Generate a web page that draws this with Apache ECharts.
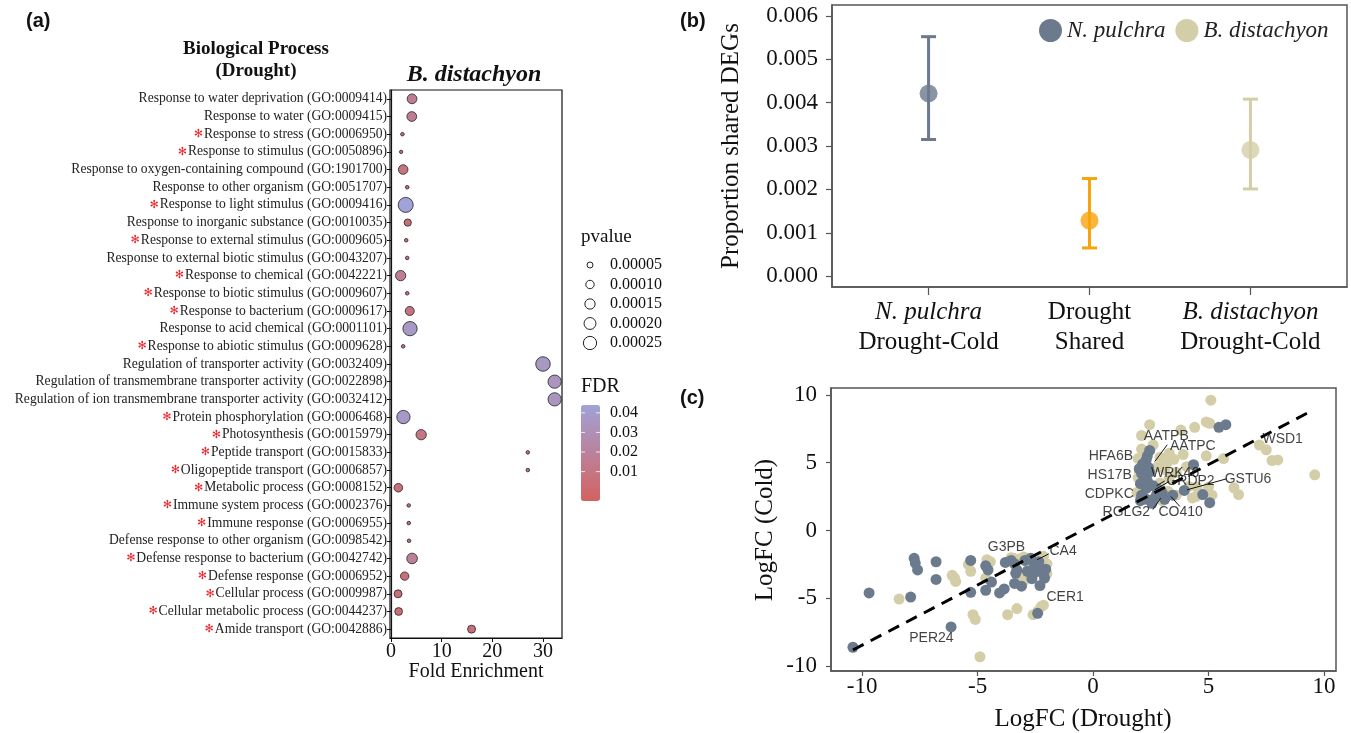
<!DOCTYPE html>
<html><head><meta charset="utf-8">
<script src="https://cdn.jsdelivr.net/npm/echarts@6/dist/echarts.min.js"></script>
<style>html,body{margin:0;padding:0;background:#fff}#c{width:1351px;height:733px}</style>
</head><body><div id="c"></div>
<script>
// ---------- Panel (a) data ----------
const goTerms = [
 'Response to water deprivation (GO:0009414)','Response to water (GO:0009415)','Response to stress (GO:0006950)',
 'Response to stimulus (GO:0050896)','Response to oxygen-containing compound (GO:1901700)','Response to other organism (GO:0051707)',
 'Response to light stimulus (GO:0009416)','Response to inorganic substance (GO:0010035)','Response to external stimulus (GO:0009605)',
 'Response to external biotic stimulus (GO:0043207)','Response to chemical (GO:0042221)','Response to biotic stimulus (GO:0009607)',
 'Response to bacterium (GO:0009617)','Response to acid chemical (GO:0001101)','Response to abiotic stimulus (GO:0009628)',
 'Regulation of transporter activity (GO:0032409)','Regulation of transmembrane transporter activity (GO:0022898)',
 'Regulation of ion transmembrane transporter activity (GO:0032412)','Protein phosphorylation (GO:0006468)','Photosynthesis (GO:0015979)',
 'Peptide transport (GO:0015833)','Oligopeptide transport (GO:0006857)','Metabolic process (GO:0008152)','Immune system process (GO:0002376)',
 'Immune response (GO:0006955)','Defense response to other organism (GO:0098542)','Defense response to bacterium (GO:0042742)',
 'Defense response (GO:0006952)','Cellular process (GO:0009987)','Cellular metabolic process (GO:0044237)','Amide transport (GO:0042886)'
];
const goMarked = [0,0,1,1,0,0,1,0,1,0,1,1,1,0,1,0,0,0,1,1,1,1,1,1,1,0,1,1,1,1,1];
const foldEnrichment = [4.15,4.1,2.25,2.0,2.4,3.2,2.9,3.3,3.0,3.2,1.9,3.2,3.7,3.75,2.4,30.0,32.3,32.3,2.45,5.95,27.0,27.0,1.45,3.5,3.5,3.56,4.16,2.7,1.39,1.5,15.9];
const pValues = [1.35e-4,1.35e-4,1.8e-5,1.6e-5,1.3e-4,1.8e-5,3.2e-4,7.5e-5,1.8e-5,1.8e-5,1.5e-4,1.8e-5,1.15e-4,2.9e-4,1.8e-5,3.0e-4,2.5e-4,2.5e-4,2.5e-4,1.5e-4,1.8e-5,1.8e-5,1.05e-4,1.8e-5,1.8e-5,1.8e-5,1.6e-4,1.0e-4,9e-5,8.5e-5,9e-5];
const fdrValues = [0.016,0.016,0.003,0.003,0.009,0.003,0.044,0.004,0.003,0.003,0.016,0.003,0.008,0.036,0.003,0.036,0.034,0.034,0.037,0.010,0.003,0.003,0.005,0.003,0.003,0.003,0.018,0.005,0.005,0.005,0.005];
const pLegendValues = [0.00005,0.00010,0.00015,0.00020,0.00025];
const fdrTicks = [0.01,0.02,0.03,0.04];
const feTicks = [0,10,20,30];

// ---------- Panel (b) data ----------
const propGroups = ['N. pulchra|Drought-Cold','Drought|Shared','B. distachyon|Drought-Cold'];
const propMean  = [0.00421,0.00128,0.00291];
const propLower = [0.00315,0.00065,0.00201];
const propUpper = [0.00552,0.00225,0.00408];
const propTicks = [0,0.001,0.002,0.003,0.004,0.005,0.006];

// ---------- Panel (c) data ----------
const npulchraPts = [
 [-10.4,-8.6],[-9.7,-4.6],[-7.9,-4.9],[-7.75,-2.05],[-7.7,-2.4],[-7.6,-2.9],[-6.8,-2.3],[-6.8,-3.6],[-6.15,-7.1],
 [-5.3,-2.2],[-5.3,-4.55],[-4.65,-2.6],[-4.55,-2.9],[-4.65,-4.4],[-4.4,-3.8],[-4.05,-4.6],[-3.85,-4.3],[-3.8,-2.35],
 [-3.55,-2.2],[-3.4,-2.45],[-3.3,-2.9],[-3.35,-3.15],[-3.4,-3.9],[-3.1,-4.1],[-2.95,-2.2],[-2.7,-2.05],[-2.55,-2.45],
 [-2.35,-2.3],[-2.85,-3.0],[-2.6,-3.2],[-2.35,-3.0],[-2.05,-2.85],[-2.1,-3.5],[-2.3,-4.05],[-2.65,-3.55],[-2.4,-6.1],
 [-2.5,-2.7],[-2.15,-3.2],
 [2.45,5.9],[2.35,5.5],[2.3,5.2],[2.15,4.9],[2.4,4.65],[2.0,4.55],[2.1,4.2],[2.45,4.3],[2.2,3.9],[2.05,3.45],[2.3,3.1],
 [2.1,2.6],[2.3,2.3],[2.05,2.2],[2.6,2.3],[2.75,2.65],[3.0,2.75],[3.1,2.3],[3.45,2.6],[2.8,3.05],[3.95,2.95],[4.35,4.85],
 [4.75,2.65],[5.05,2.05],[5.45,7.6],[5.75,7.8],[2.55,2.0],[2.35,3.65],[2.6,3.3]
];
const bdistachyonPts = [
 [-8.4,-5.05],[-6.1,-3.3],[-5.95,-3.75],[-6.0,-3.5],[-5.4,-2.5],[-5.3,-3.0],[-5.2,-6.2],[-5.1,-6.55],[-4.9,-9.3],
 [-4.45,-2.3],[-4.65,-3.5],[-3.7,-6.2],[-3.3,-5.75],[-3.55,-2.0],[-3.2,-2.1],[-3.0,-1.95],[-2.85,-2.35],[-2.2,-2.05],
 [-2.0,-2.45],[-2.15,-1.9],[-2.6,-6.2],[-2.4,-5.95],[-2.25,-5.6],[-2.15,-5.5],[-3.1,-3.3],[-2.0,-3.2],[-2.5,-2.15],
 [-4.6,-2.15],[-3.45,-2.05],[-2.75,-2.1],[-2.3,-2.6],[-3.0,-3.7],
 [5.1,9.6],[2.45,7.8],[2.1,7.0],[4.4,7.6],[5.05,7.9],[3.8,7.4],[4.9,8.0],[7.2,6.3],[7.5,5.95],[7.75,5.15],[8.0,5.2],
 [9.6,4.1],[5.65,5.3],[4.9,5.5],[6.1,3.15],[6.3,2.65],[5.15,2.6],[4.45,2.5],[4.15,3.25],[2.1,6.0],[1.95,5.3],[2.9,5.4],
 [3.2,5.0],[3.5,5.25],[3.3,5.7],[2.0,4.4],[2.8,4.7],[3.1,4.5],[2.9,3.5],[3.3,3.9],[3.6,4.3],[1.95,3.9],[2.7,3.2],[3.6,2.6],
 [4.5,3.2],[4.3,2.4],[3.25,2.9],[4.05,4.7],[5.0,3.2],[3.9,5.6],[2.6,6.3],[1.9,2.8],[3.0,2.2]
];
const fitLine = [[-10.4,-8.8],[9.5,8.85]];
const geneNames = ['AATPB','AATPC','HFA6B','HS17B','CDPKC','RGLG2','CO410','WRK46','GRDP2','GSTU6','WSD1','G3PB','CA4','CER1','PER24'];
const geneLabelAt = [[3.17,6.93],[4.32,6.24],[0.77,5.5],[0.72,4.1],[0.7,2.68],[1.44,1.33],[3.79,1.33],[3.55,4.23],[4.22,3.61],[6.71,3.79],[8.21,6.73],[-3.75,-1.22],[-1.3,-1.55],[-1.21,-4.91],[-7.0,-7.93]];
const geneLeaders = [[3.21,6.32,2.67,5.08],[-1.92,-1.72,-2.43,-2.16],[5.78,3.81,4.07,3.0],[3.29,3.61,2.67,3.0],[3.1,3.65,2.75,3.3],[2.59,1.55,2.93,2.39],[3.76,1.77,3.37,2.51]];
const logfcTicks = [-10,-5,0,5,10];

// ---------- styles ----------
const SERIF = '"Liberation Serif", "Times New Roman", serif';
const SANS = '"Liberation Sans", Arial, sans-serif';
const SLATE = '#6B7B8D', BEIGE = '#D3CEA7', ORANGE = '#F7A30C';
const propColors = [SLATE, ORANGE, BEIGE];
const FDR_MIN = -0.005, FDR_MAX = 0.044;
const CB = {left:581, top:405, w:19, h:96};
function pSize(p){ return 840*Math.sqrt(p); }

const chart = echarts.init(document.getElementById('c'));

const graphics = [];
function txt(t, x, y, font, opt){
  opt = opt || {};
  graphics.push({type:'text', x:x, y:y, rotation:opt.rot||0, silent:true,
    style:{text:t, font:font, fill:opt.fill||'#111', textAlign:opt.align||'center', textVerticalAlign:'middle',
           align:opt.align||'center', verticalAlign:'middle'}});
}
txt('(a)', 26, 21, 'bold 20px '+SANS, {align:'left'});
txt('(b)', 680, 21, 'bold 20px '+SANS, {align:'left'});
txt('(c)', 680, 398, 'bold 20px '+SANS, {align:'left'});
txt('Biological Process', 256, 49, 'bold 19px '+SERIF);
txt('(Drought)', 256, 71, 'bold 19px '+SERIF);
txt('B. distachyon', 474, 75, 'italic bold 24px '+SERIF);
txt('Fold Enrichment', 476, 672, '20px '+SERIF);
txt('pvalue', 581, 237, '19px '+SERIF, {align:'left'});
pLegendValues.forEach((v,i)=>{
  const y = 265 + i*19.5;
  graphics.push({type:'circle', silent:true, shape:{cx:590, cy:y, r:pSize(v)/2}, style:{fill:'#fff', stroke:'#222', lineWidth:1}});
  txt(v.toFixed(5), 610, y, '16px '+SERIF, {align:'left'});
});
txt('FDR', 581, 387, '20px '+SERIF, {align:'left'});
fdrTicks.forEach(v=>{
  const y = CB.top + (FDR_MAX - v)/(FDR_MAX-FDR_MIN)*CB.h;
  txt(v.toFixed(2), 610, y, '16px '+SERIF, {align:'left'});
  graphics.push({type:'line', silent:true, z:200, shape:{x1:CB.left, y1:y, x2:CB.left+4, y2:y}, style:{stroke:'rgba(255,255,255,0.8)', lineWidth:1}});
  graphics.push({type:'line', silent:true, z:200, shape:{x1:CB.left+CB.w-4, y1:y, x2:CB.left+CB.w, y2:y}, style:{stroke:'rgba(255,255,255,0.8)', lineWidth:1}});
});
txt('Proportion shared DEGs', 731, 146, '25px '+SERIF, {rot:Math.PI/2});
txt('LogFC (Cold)', 765, 530, '25px '+SERIF, {rot:Math.PI/2});
txt('LogFC (Drought)', 1083, 719, '25px '+SERIF);

const axBase = {splitLine:{show:false}};
const option = {
  animation:false,
  backgroundColor:'#fff',
  grid:[
    {left:390, top:90, width:172, height:548, show:true, borderColor:'#111', borderWidth:1.2},
    {left:832, top:5, width:515, height:282, show:true, borderColor:'#555', borderWidth:1.5},
    {left:831, top:388, width:505, height:283, show:true, borderColor:'#555', borderWidth:1.5}
  ],
  xAxis:[
    Object.assign({gridIndex:0, type:'value', min:-0.2, max:33.75,
      axisLine:{show:true, onZero:false, lineStyle:{color:'#111', width:1.2}},
      axisTick:{show:true, customValues:feTicks, length:4, lineStyle:{color:'#111'}},
      axisLabel:{customValues:feTicks, fontFamily:SERIF, fontSize:20, color:'#111', margin:4}}, axBase),
    Object.assign({gridIndex:1, type:'value', min:0.4, max:3.6,
      axisLine:{show:true, onZero:false, lineStyle:{color:'#555', width:1.5}},
      axisTick:{show:true, customValues:[1,2,3], length:8, lineStyle:{color:'#555', width:1.2}},
      axisLabel:{customValues:[1,2,3], fontFamily:SERIF, fontSize:25, color:'#111', margin:10, lineHeight:30,
        formatter:function(v){ const g = propGroups[Math.round(v)-1].split('|');
          return (g[0].indexOf('.')>0 ? '{i|'+g[0]+'}' : g[0]) + '\n' + g[1]; },
        rich:{i:{fontStyle:'italic', fontFamily:SERIF, fontSize:25, color:'#111', lineHeight:30}}}}, axBase),
    Object.assign({gridIndex:2, type:'value', min:-11.35, max:10.52,
      axisLine:{show:true, onZero:false, lineStyle:{color:'#555', width:1.5}},
      axisTick:{show:true, customValues:logfcTicks, length:5, lineStyle:{color:'#555', width:1.2}},
      axisLabel:{customValues:logfcTicks, fontFamily:SERIF, fontSize:23, color:'#111', margin:4}}, axBase)
  ],
  yAxis:[
    Object.assign({gridIndex:0, type:'category', data:goTerms, inverse:true, boundaryGap:true,
      axisLine:{show:true, lineStyle:{color:'#111', width:1.2}},
      axisTick:{show:true, alignWithLabel:true, length:4, lineStyle:{color:'#111'}},
      axisLabel:{interval:0, fontFamily:SERIF, fontSize:13.6, color:'#222', margin:3,
        formatter:function(v, i){ return goMarked[i] ? '{s|\u273B}'+v : v; },
        rich:{s:{fontFamily:'"DejaVu Sans"', fontSize:11, color:'#E8262B', padding:[0,1,0,0]}}}}, axBase),
    Object.assign({gridIndex:1, type:'value', min:-0.00025, max:0.00625,
      axisLine:{show:true, onZero:false, lineStyle:{color:'#555', width:1.5}},
      axisTick:{show:true, customValues:propTicks, length:6, lineStyle:{color:'#555', width:1.2}},
      axisLabel:{customValues:propTicks, fontFamily:SERIF, fontSize:23, color:'#111', margin:14,
        formatter:function(v){ return v.toFixed(3); }}}, axBase),
    Object.assign({gridIndex:2, type:'value', min:-10.35, max:10.5,
      axisLine:{show:true, onZero:false, lineStyle:{color:'#555', width:1.5}},
      axisTick:{show:true, customValues:logfcTicks, length:5, lineStyle:{color:'#555', width:1.2}},
      axisLabel:{customValues:logfcTicks, fontFamily:SERIF, fontSize:23, color:'#111', margin:14}}, axBase)
  ],
  visualMap:[{type:'continuous', seriesIndex:0, dimension:3, min:FDR_MIN, max:FDR_MAX,
    inRange:{color:['#D4625F','#A0A2D8']}, left:CB.left, top:CB.top, itemWidth:CB.w, itemHeight:CB.h,
    calculable:false, padding:0, hoverLink:false, show:true}],
  legend:{data:['N. pulchra','B. distachyon'], left:1039, top:19, icon:'circle', itemWidth:23, itemHeight:23,
    itemGap:10, padding:0, selectedMode:false,
    textStyle:{fontFamily:SERIF, fontStyle:'italic', fontSize:23, color:'#222'}},
  graphic:graphics,
  series:[
    {type:'scatter', xAxisIndex:0, yAxisIndex:0,
      data:goTerms.map((t,i)=>[foldEnrichment[i], i, pValues[i], fdrValues[i]]),
      symbolSize:function(d){ return pSize(d[2]); },
      itemStyle:{borderColor:'#222', borderWidth:0.8, opacity:1}},
    {type:'custom', xAxisIndex:1, yAxisIndex:1, encode:{x:0, y:[1,2]},
      data:propMean.map((m,i)=>[i+1, propLower[i], propUpper[i]]),
      renderItem:function(params, api){
        const x = api.value(0);
        const a = api.coord([x, api.value(1)]), b = api.coord([x, api.value(2)]);
        const w = 7.5, st = {stroke:propColors[params.dataIndex], lineWidth:3};
        return {type:'group', children:[
          {type:'line', shape:{x1:a[0],y1:a[1],x2:b[0],y2:b[1]}, style:st},
          {type:'line', shape:{x1:a[0]-w,y1:a[1],x2:a[0]+w,y2:a[1]}, style:st},
          {type:'line', shape:{x1:b[0]-w,y1:b[1],x2:b[0]+w,y2:b[1]}, style:st}]};
      }},
    {type:'scatter', xAxisIndex:1, yAxisIndex:1, symbolSize:18, z:3,
      data:propMean.map((m,i)=>({value:[i+1, m], itemStyle:{color:propColors[i]}}))},
    {name:'B. distachyon', type:'scatter', xAxisIndex:2, yAxisIndex:2, symbolSize:11,
      itemStyle:{color:BEIGE, opacity:1}, data:bdistachyonPts},
    {name:'N. pulchra', type:'scatter', xAxisIndex:2, yAxisIndex:2, symbolSize:11,
      itemStyle:{color:SLATE, opacity:1}, data:npulchraPts},
    {type:'line', xAxisIndex:2, yAxisIndex:2, data:fitLine, symbol:'none', z:4,
      lineStyle:{color:'#000', width:3, type:[12,8]}},
    {type:'custom', xAxisIndex:2, yAxisIndex:2, z:5, data:geneLeaders, encode:{x:[0,2], y:[1,3]},
      renderItem:function(params, api){
        const a = api.coord([api.value(0), api.value(1)]), b = api.coord([api.value(2), api.value(3)]);
        return {type:'line', shape:{x1:a[0],y1:a[1],x2:b[0],y2:b[1]}, style:{stroke:'#111', lineWidth:1}};
      }},
    {type:'scatter', xAxisIndex:2, yAxisIndex:2, z:6, symbol:'circle', symbolSize:1,
      itemStyle:{color:'rgba(0,0,0,0)'},
      data:geneNames.map((n,i)=>({name:n, value:geneLabelAt[i]})),
      label:{show:true, position:'inside', formatter:function(p){ return p.name; },
        fontFamily:SANS, fontSize:14, color:'#111', textBorderWidth:0}}
  ]
};
chart.setOption(option);
</script></body></html>
